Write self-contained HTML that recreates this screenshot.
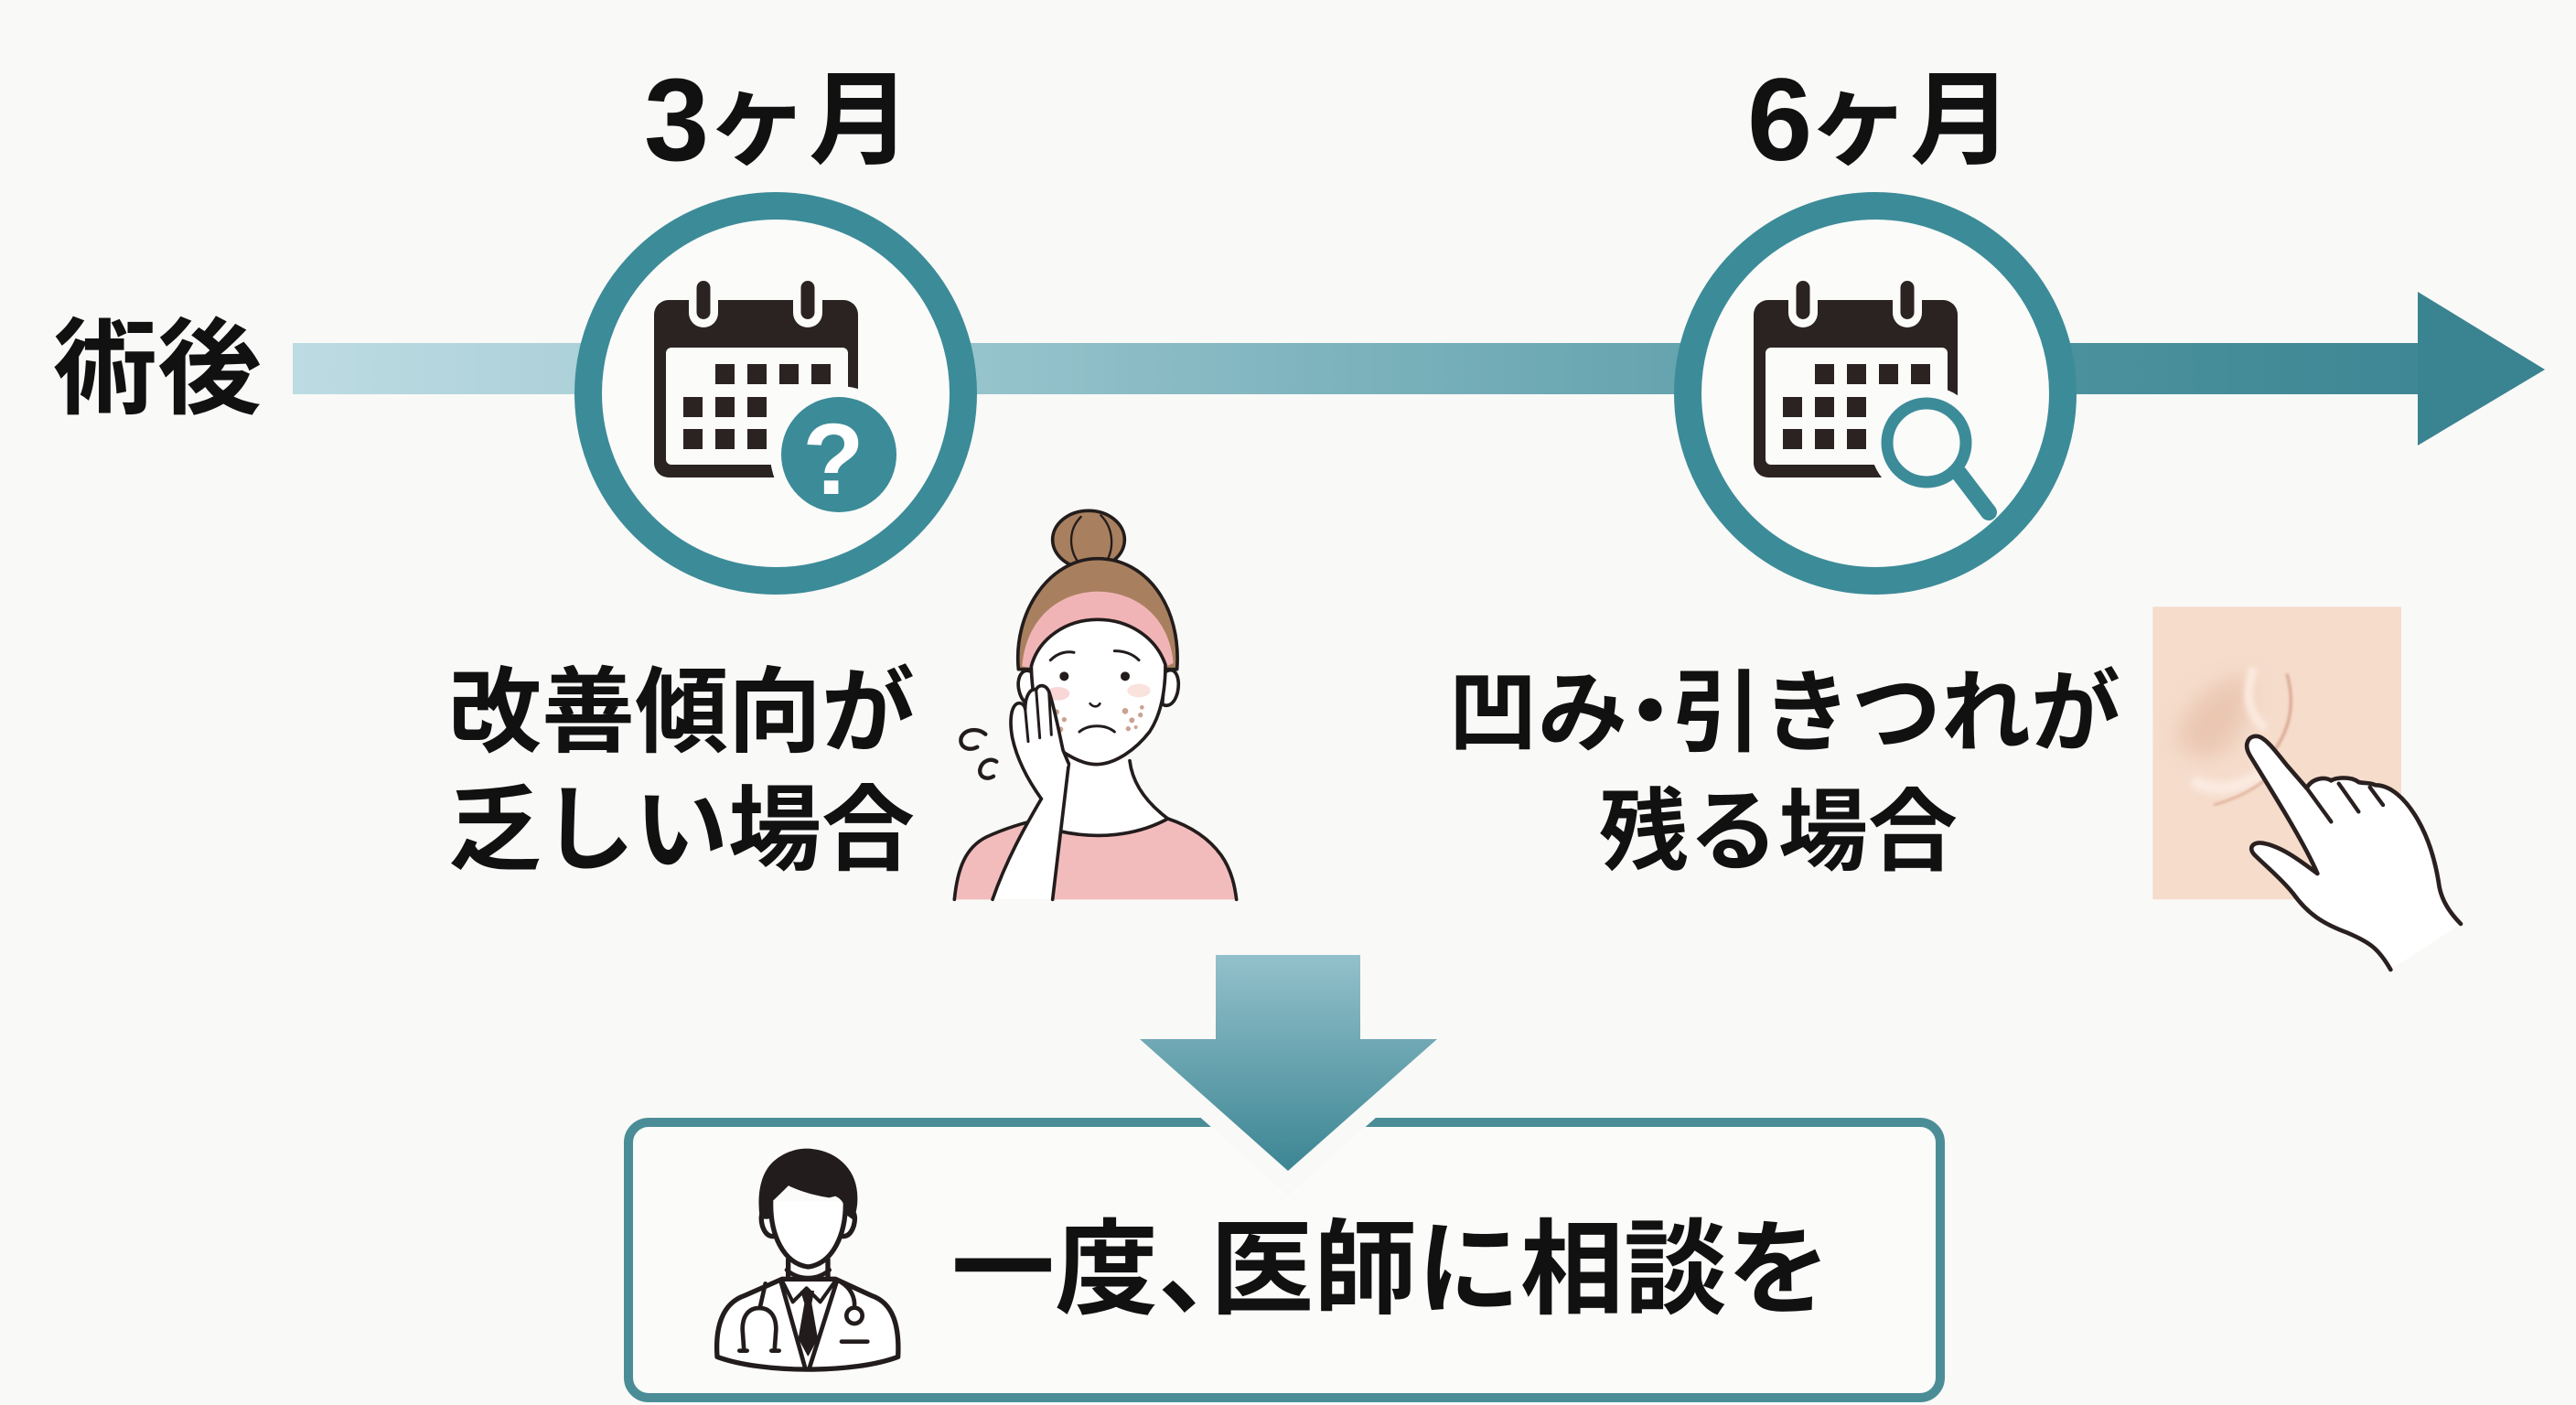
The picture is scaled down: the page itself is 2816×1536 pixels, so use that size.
<!DOCTYPE html>
<html><head><meta charset="utf-8"><style>
html,body{margin:0;padding:0;background:#f9f9f7;}
svg{display:block;}
text{font-family:"Liberation Sans","Noto Sans CJK JP",sans-serif;font-weight:700;fill:#111;}
</style></head><body>
<svg width="2816" height="1536" viewBox="0 0 2816 1536" xmlns="http://www.w3.org/2000/svg">
<defs>
<linearGradient id="bar" gradientUnits="userSpaceOnUse" x1="320" y1="0" x2="2782" y2="0">
<stop offset="0" stop-color="#bddbe2"/><stop offset="0.30" stop-color="#97c4cd"/><stop offset="0.61" stop-color="#66a4af"/><stop offset="0.79" stop-color="#4b919d"/><stop offset="1" stop-color="#3a8391"/>
</linearGradient>
<linearGradient id="down" x1="0" y1="0" x2="0" y2="1">
<stop offset="0" stop-color="#93c1cb"/><stop offset="1" stop-color="#3c8593"/>
</linearGradient>
<filter id="b30" x="-50%" y="-50%" width="200%" height="200%"><feGaussianBlur stdDeviation="35"/></filter>
<filter id="b8" x="-50%" y="-50%" width="200%" height="200%"><feGaussianBlur stdDeviation="8"/></filter>
<filter id="b4" x="-50%" y="-50%" width="200%" height="200%"><feGaussianBlur stdDeviation="4"/></filter>
<filter id="b12" x="-50%" y="-50%" width="200%" height="200%"><feGaussianBlur stdDeviation="12"/></filter>
</defs>
<rect width="2816" height="1536" fill="#f9f9f7"/>

<!-- headings -->
<text x="704" y="175" font-size="128" font-family="Liberation Sans">3</text>
<text x="772" y="170" font-size="112">ヶ月</text>
<text x="1910" y="175" font-size="128" font-family="Liberation Sans">6</text>
<text x="1976" y="170" font-size="112">ヶ月</text>
<text x="58" y="443" font-size="114">術後</text>

<!-- timeline bar -->
<rect x="320" y="375" width="2330" height="56" fill="url(#bar)"/>
<polygon points="2643,319 2782,404 2643,487" fill="#3a8391"/>

<!-- circles -->
<circle cx="848" cy="430" r="205" fill="#fbfbfa" stroke="#3c8b98" stroke-width="30"/>
<circle cx="2050" cy="430" r="205" fill="#fbfbfa" stroke="#3c8b98" stroke-width="30"/>

<!-- calendar 1 -->
<g id="cal1">
<rect x="715" y="328" width="223" height="194" rx="16" fill="#2b2322"/>
<rect x="728" y="380" width="199" height="128" rx="6" fill="#fbfbfa"/>
<rect x="753" y="298" width="32" height="60" rx="16" fill="#fbfbfa"/>
<rect x="867" y="298" width="32" height="60" rx="16" fill="#fbfbfa"/>
<rect x="761.5" y="307" width="15" height="42" rx="7.5" fill="#2b2322"/>
<rect x="875.5" y="307" width="15" height="42" rx="7.5" fill="#2b2322"/>
<g fill="#2b2322">
<rect x="782" y="398" width="21" height="22"/><rect x="817" y="398" width="21" height="22"/><rect x="852" y="398" width="21" height="22"/><rect x="887" y="398" width="21" height="22"/>
<rect x="747" y="434" width="21" height="22"/><rect x="782" y="434" width="21" height="22"/><rect x="817" y="434" width="21" height="22"/>
<rect x="747" y="469" width="21" height="22"/><rect x="782" y="469" width="21" height="22"/><rect x="817" y="469" width="21" height="22"/>
</g>
</g>
<circle cx="917" cy="497" r="75" fill="#fbfbfa"/>
<circle cx="917" cy="497" r="63" fill="#3c8b98"/>
<text x="911" y="540" font-size="110" font-family="Liberation Sans" text-anchor="middle" style="fill:#fff">?</text>

<!-- calendar 2 -->
<g transform="translate(1202,0)">
<rect x="715" y="328" width="223" height="194" rx="16" fill="#2b2322"/>
<rect x="728" y="380" width="199" height="128" rx="6" fill="#fbfbfa"/>
<rect x="753" y="298" width="32" height="60" rx="16" fill="#fbfbfa"/>
<rect x="867" y="298" width="32" height="60" rx="16" fill="#fbfbfa"/>
<rect x="761.5" y="307" width="15" height="42" rx="7.5" fill="#2b2322"/>
<rect x="875.5" y="307" width="15" height="42" rx="7.5" fill="#2b2322"/>
<g fill="#2b2322">
<rect x="782" y="398" width="21" height="22"/><rect x="817" y="398" width="21" height="22"/><rect x="852" y="398" width="21" height="22"/><rect x="887" y="398" width="21" height="22"/>
<rect x="747" y="434" width="21" height="22"/><rect x="782" y="434" width="21" height="22"/><rect x="817" y="434" width="21" height="22"/>
<rect x="747" y="469" width="21" height="22"/><rect x="782" y="469" width="21" height="22"/><rect x="817" y="469" width="21" height="22"/>
</g>
</g>
<circle cx="2106" cy="484" r="62" fill="#fbfbfa"/>
<line x1="2142" y1="518" x2="2174" y2="560" stroke="#3c8b98" stroke-width="18" stroke-linecap="round"/>
<circle cx="2106" cy="484" r="43" fill="#fbfbfa" stroke="#3c8b98" stroke-width="13"/>

<!-- left description -->
<text x="745" y="814" font-size="102" text-anchor="middle">改善傾向が</text>
<text x="745" y="943" font-size="102" text-anchor="middle">乏しい場合</text>

<!-- right description -->
<text x="1583" y="813" font-size="98">凹み<tspan dx="-24">・</tspan><tspan dx="-25">引きつれが</tspan></text>
<text x="1748" y="943" font-size="98">残る場合</text>

<!-- woman -->
<g transform="translate(1000,540) scale(0.33333)" stroke="#231c1c" stroke-width="11" stroke-linecap="round" stroke-linejoin="round">
<path d="M130,1330 C140,1230 165,1160 235,1125 C300,1095 370,1075 430,1062 L480,1108 C600,1135 730,1120 830,1065 C905,1090 965,1130 1005,1185 C1040,1235 1050,1290 1055,1330 Z" fill="#f3bcbc" stroke="none"/>
<path d="M130,1330 C140,1230 165,1160 235,1125 C300,1095 370,1075 430,1062" fill="none"/>
<path d="M830,1065 C905,1090 965,1130 1005,1185 C1040,1235 1050,1290 1055,1330" fill="none"/>
<path d="M505,870 L490,1108 C600,1135 730,1120 830,1065 C770,1020 720,960 705,875 Z" fill="#fff" stroke="none"/>
<path d="M470,1105 C600,1135 730,1120 830,1065" fill="none"/>
<path d="M705,875 C715,960 770,1020 830,1065" fill="none"/>
<ellipse cx="570" cy="150" rx="118" ry="95" fill="#a8805f"/>
<path d="M545,75 C500,120 505,190 545,235 M610,70 C650,110 660,180 620,235" fill="none" stroke-width="7"/>
<path d="M340,575 C322,390 440,212 600,212 C760,212 875,370 860,575 Z" fill="#a8805f"/>
<path d="M352,565 C365,410 470,322 600,320 C730,322 835,405 848,555 L825,565 C790,470 700,412 600,412 C500,412 405,470 380,570 Z" fill="#f1b4b6" stroke="none"/>
<path d="M820,585 C855,560 872,605 862,650 C852,690 830,700 812,690 Z" fill="#fff"/>
<path d="M385,585 C352,565 332,605 342,645 C350,680 370,695 390,690 Z" fill="#fff"/>
<path d="M382,565 C385,700 420,800 480,842 C540,882 578,890 610,886 C660,880 722,842 770,780 C810,720 822,640 822,560 C790,468 700,412 600,412 C500,412 408,470 382,565 Z" fill="#fff"/>
<ellipse cx="470" cy="655" rx="38" ry="22" fill="#f7c6c6" stroke="none" opacity="0.7"/>
<ellipse cx="735" cy="645" rx="38" ry="22" fill="#f7cfc6" stroke="none" opacity="0.6"/>
<g fill="#c9a292" stroke="none">
<circle cx="465" cy="715" r="9"/><circle cx="490" cy="740" r="8"/><circle cx="478" cy="772" r="9"/><circle cx="462" cy="745" r="6"/>
<circle cx="690" cy="712" r="10"/><circle cx="712" cy="742" r="9"/><circle cx="740" cy="725" r="8"/><circle cx="700" cy="770" r="8"/><circle cx="745" cy="700" r="7"/><circle cx="725" cy="765" r="6"/>
</g>
<circle cx="490" cy="598" r="15" fill="#231c1c" stroke="none"/>
<circle cx="690" cy="598" r="15" fill="#231c1c" stroke="none"/>
<path d="M445,545 C470,520 500,515 522,520 M655,515 C690,515 715,525 735,545" fill="none" stroke-width="9"/>
<path d="M575,688 C585,700 600,700 607,688" fill="none" stroke-width="8"/>
<path d="M540,780 C570,755 625,755 655,780" fill="none" stroke-width="9"/>
<path d="M255,1330 C300,1200 365,1085 415,1000 L505,885 C492,1000 472,1160 452,1330 Z" fill="#fff" stroke="none"/>
<path d="M255,1330 C300,1200 365,1085 415,1000" fill="none"/>
<path d="M505,885 C492,1000 472,1160 452,1330" fill="none"/>
<path d="M415,1000 C372,940 335,870 320,800 C310,745 315,700 335,688 C348,682 360,692 362,705 C362,665 378,636 398,642 C405,625 428,622 440,648 C458,700 475,790 486,840 L505,885" fill="#fff"/>
<path d="M362,705 L372,812 M398,642 L410,800 M440,650 L448,790" fill="none" stroke-width="9"/>
<path d="M232,788 C205,765 162,772 152,800 C145,830 175,845 205,830 M268,878 C248,865 220,875 214,903 C210,928 235,940 258,926" fill="none" stroke-width="13"/>
</g>

<!-- skin + hand -->
<g transform="translate(2300,640) scale(0.33333)">
<rect x="160" y="70" width="815" height="960" fill="#f5dccb"/>
<path d="M235,520 C250,400 360,300 480,300 C480,420 450,540 330,570 Z" fill="#e8c3ae" filter="url(#b30)" opacity="0.85"/>
<path d="M290,640 C380,690 480,660 560,580" fill="none" stroke="#fbebe2" stroke-width="40" filter="url(#b12)"/>
<path d="M490,270 C470,340 460,410 530,470" fill="none" stroke="#fbe9de" stroke-width="30" filter="url(#b8)"/>
<path d="M600,290 C625,380 615,460 560,540" fill="none" stroke="#dca994" stroke-width="10" filter="url(#b4)"/>
<path d="M360,720 C430,700 500,670 560,610" fill="none" stroke="#e0b09a" stroke-width="8" filter="url(#b4)"/>
<path d="M940,1260 C900,1190 870,1170 800,1140 C720,1110 670,1080 620,1010 C580,960 530,920 495,885 C470,860 490,840 520,845 C580,855 640,900 700,945 C660,850 560,690 480,560 C455,520 475,490 505,495 C530,500 560,540 600,590 L665,665 C680,635 720,625 745,640 C760,630 810,625 835,645 C850,650 870,645 890,655 C940,655 990,700 1030,770 C1070,840 1090,920 1100,990 C1110,1040 1140,1080 1170,1110" fill="#fff" stroke="#2a2020" stroke-width="14" stroke-linecap="round" stroke-linejoin="round"/>
<path d="M665,665 L745,775 M770,650 L835,742 M872,662 L915,720" fill="none" stroke="#2a2020" stroke-width="13" stroke-linecap="round"/>
</g>

<!-- bottom box -->
<rect x="687" y="1227" width="1434" height="301" rx="22" fill="#fbfbfa" stroke="#4b8d97" stroke-width="10"/>
<polygon points="1329,1044 1487,1044 1487,1136 1571,1136 1408,1280 1246,1136 1329,1136" fill="url(#down)" stroke="#f9f9f7" stroke-width="40" stroke-linejoin="miter" style="paint-order:stroke"/>

<!-- doctor -->
<g transform="translate(680,1020) scale(0.33333)" stroke="#231c1c" stroke-linecap="round" stroke-linejoin="round">
<path d="M312,1390 C305,1290 330,1215 400,1190 L525,1135 L700,1135 L820,1190 C890,1215 910,1290 905,1390 C760,1445 460,1445 312,1390 Z" fill="#fff" stroke-width="16"/>
<path d="M545,1070 L545,1130 M675,1070 L675,1130" fill="none" stroke-width="16"/>
<path d="M540,1105 C580,1140 640,1140 680,1105" fill="none" stroke-width="14"/>
<path d="M520,1140 L600,1425 M705,1140 L615,1425" fill="none" stroke-width="14"/>
<path d="M525,1140 L560,1210 L605,1165 L650,1210 L700,1140" fill="none" stroke-width="12"/>
<path d="M588,1175 L628,1175 L620,1215 L600,1215 Z M600,1215 L620,1215 L640,1330 L610,1385 L580,1330 Z" fill="#231c1c" stroke-width="4"/>
<path d="M470,1150 L452,1230 M400,1370 L395,1300 C395,1250 420,1230 450,1230 C480,1230 505,1250 505,1300 L500,1370 M385,1370 L410,1370 M490,1370 L515,1370" fill="none" stroke-width="14"/>
<path d="M718,1145 C750,1165 765,1195 762,1228" fill="none" stroke-width="14"/>
<circle cx="762" cy="1255" r="26" fill="#fff" stroke-width="14"/>
<path d="M720,1340 L805,1340" fill="none" stroke-width="14"/>
<path d="M488,910 C465,900 450,920 460,960 C468,985 480,995 495,995 M733,910 C755,900 770,920 760,960 C752,985 740,995 725,995" fill="#fff" stroke-width="16"/>
<path d="M488,880 C485,990 530,1085 610,1095 C690,1085 735,990 733,880" fill="#fff" stroke-width="16"/>
<path d="M455,935 C445,860 455,790 500,750 C540,715 590,705 630,712 C700,722 760,770 768,850 C772,890 765,920 755,935 L735,920 C735,890 725,870 700,860 L680,865 C640,860 585,845 545,825 C520,850 500,870 488,880 L480,935 Z" fill="#231c1c" stroke-width="6"/>
</g>
<text x="1040" y="1427" font-size="113">一度、<tspan dx="-56">医師に相談を</tspan></text>
</svg>
</body></html>
